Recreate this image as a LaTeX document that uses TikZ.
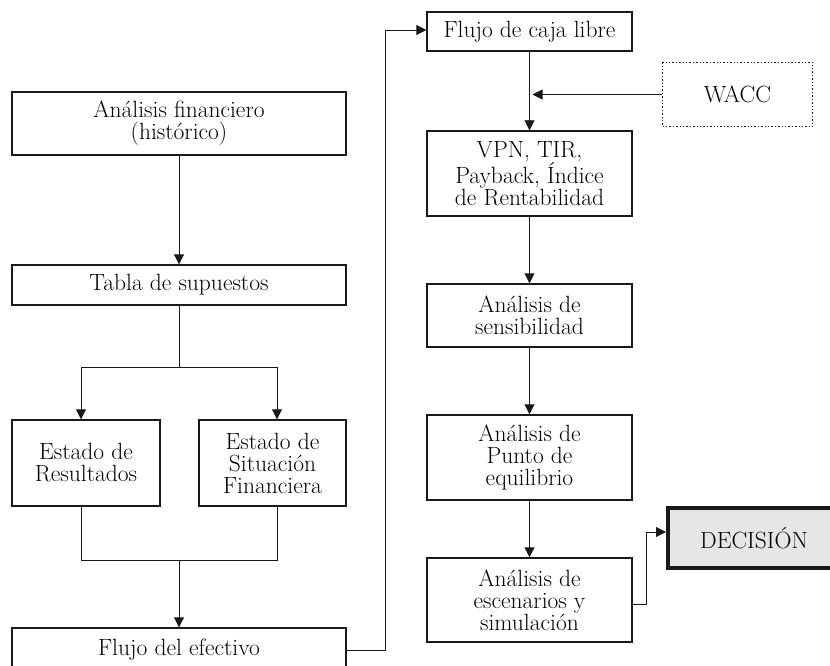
\documentclass[tikz,border=0pt]{standalone}
\usetikzlibrary{arrows.meta,calc}
\definecolor{ink}{RGB}{25,25,25}
\definecolor{decfill}{RGB}{230,230,230}
\begin{document}
\begin{tikzpicture}[x=1pt,y=-1pt,
  box/.style={draw=ink,line width=1.4pt,fill=white,align=center,inner sep=2pt,
    font=\fontsize{23.5}{22}\selectfont,text=black},
  conn/.style={draw=ink,line width=0.9pt},
  arr/.style={conn,-{Triangle[length=10pt,width=10pt]}}]
\useasboundingbox (0,0) rectangle (830,666);
\clip (0,0) rectangle (830,666);
% left column
\node[box,minimum width=334pt,minimum height=63pt] (afin) at (179,123.5) {Análisis financiero\\(histórico)};
\node[box,minimum width=334pt,minimum height=40pt] (tabla) at (179,285) {Tabla de supuestos};
\node[box,minimum width=148pt,minimum height=86pt] (er) at (86,463) {Estado de\\Resultados};
\node[box,minimum width=147pt,minimum height=86pt] (esf) at (272.5,463) {Estado de\\Situación\\Financiera};
\node[box,minimum width=334pt,minimum height=44pt] (fe) at (179,650) {Flujo del efectivo};
% right column
\node[box,minimum width=205pt,minimum height=39pt] (fcl) at (529.5,31.5) {Flujo de caja libre};
\node[box,draw=none,minimum width=149pt,minimum height=63pt] (wacc) at (737.5,94.5) {WACC};
\draw[ink,line width=1.4pt,dotted] (wacc.north west) rectangle (wacc.south east);
\node[box,minimum width=205pt,minimum height=85pt] (vpn) at (529.5,173.5) {VPN, TIR,\\Payback, Índice\\de Rentabilidad};
\node[box,minimum width=205pt,minimum height=63pt] (sens) at (529.5,315.5) {Análisis de\\sensibilidad};
\node[box,minimum width=205pt,minimum height=85pt] (pe) at (529.5,457.5) {Análisis de\\Punto de\\equilibrio};
\node[box,minimum width=205pt,minimum height=84pt] (esc) at (529.5,600) {Análisis de\\escenarios y\\simulación};
\node[box,fill=decfill,line width=4pt,minimum width=172pt,minimum height=60pt] (dec) at (754,538) {DECISIÓN};
% connectors left
\draw[arr] (afin) -- (tabla);
\coordinate (b1) at (179,367);
\draw[conn] (tabla.south) -- (b1);
\draw[arr] (b1) -| ([xshift=-5pt]er.north);
\draw[arr] (b1) -| ([xshift=4.5pt]esf.north);
\coordinate (b2) at (179,560);
\draw[conn] ([xshift=-5pt]er.south) |- (b2);
\draw[conn] ([xshift=4.5pt]esf.south) |- (b2);
\draw[arr] (b2) -- (fe.north);
\coordinate (r1) at (385,650);
\draw[arr] (fe.east) -- (r1) |- ([yshift=1.5pt]fcl.west);
% connectors right
\draw[arr] (fcl) -- (vpn);
\draw[arr] (wacc.west) -- ($(fcl.south |- wacc.west)+(3,0)$);
\draw[arr] (vpn) -- (sens);
\draw[arr] (sens) -- (pe);
\draw[arr] (pe) -- (esc);
\coordinate (r2) at (646,604);
\draw[arr] ([yshift=-4pt]esc.east) -- (r2) |- ([yshift=6pt]dec.west);
\end{tikzpicture}
\end{document}
